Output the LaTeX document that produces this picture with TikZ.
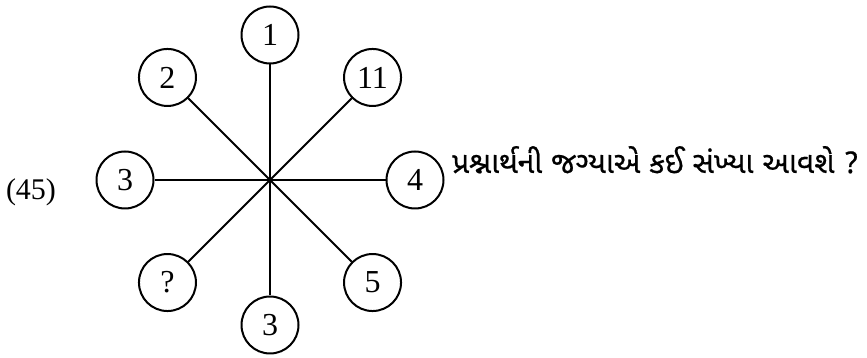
\documentclass[tikz,border=0pt]{standalone}
\usepackage{fontspec}
\setmainfont{Liberation Serif}
\newfontfamily\gujfont[Script=Gujarati,FakeBold=0.6]{Noto Sans Gujarati UI}
\usetikzlibrary{calc,positioning}

\begin{document}
\begin{tikzpicture}[x=1pt,y=1pt,
  num/.style={draw,circle,line width=2pt,minimum size=57pt,inner sep=0pt,font=\fontsize{32}{32}\selectfont},
  spoke/.style={line width=1.8pt},
  label/.style={font=\fontsize{30}{30}\selectfont}
]
  \useasboundingbox (0,0) rectangle (867,358);
  \coordinate (hub) at (270,178);
  \foreach \ang/\val/\nm in {90/1/top,135/2/upleft,45/11/upright,180/3/left,0/4/right,225/?/lowleft,315/5/lowright,270/3/bottom}
  {
    \node[num] (\nm) at ($(hub)+(\ang:145)$) {\val};
    \draw[spoke] (hub) -- (\nm);
  }
  \node[label] (qno) at (31,166) {(45)};
  \node[anchor=base west,inner sep=0pt,font=\gujfont\fontsize{30}{30}\selectfont] (ask) at (452,185) {પ્રશ્નાર્થની જગ્યાએ કઈ સંખ્યા આવશે ?};
\end{tikzpicture}
\end{document}
